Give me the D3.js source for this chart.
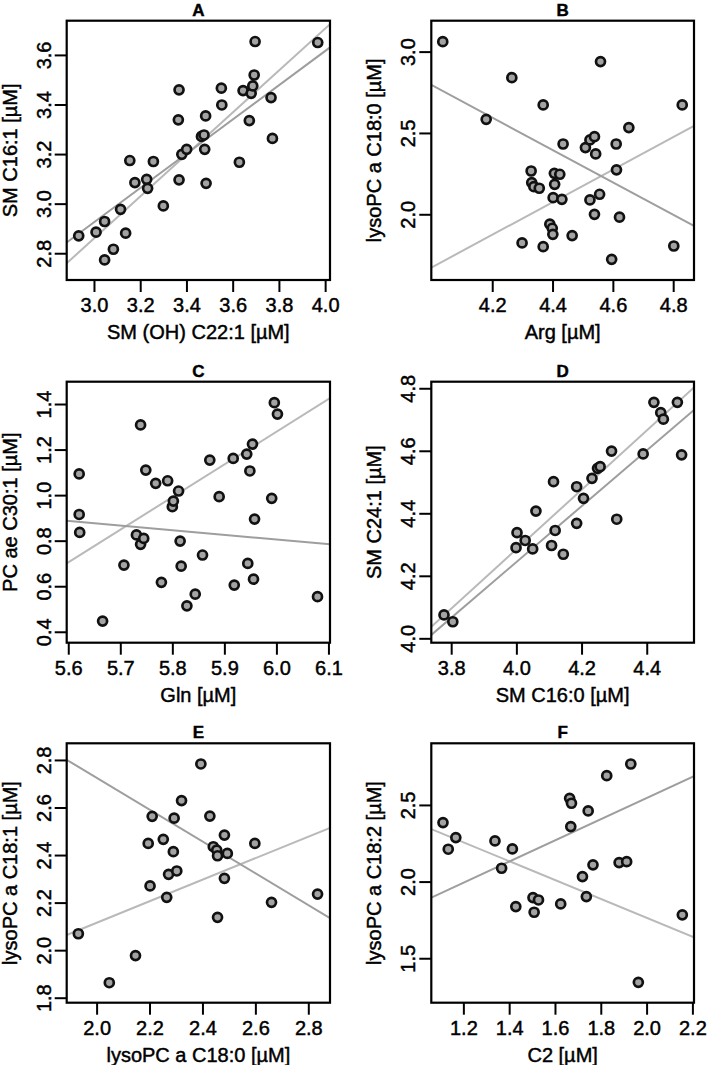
<!DOCTYPE html>
<html>
<head>
<meta charset="utf-8">
<script src="https://cdn.jsdelivr.net/npm/d3@7"></script>
<style>
  html, body { margin: 0; padding: 0; background: #fff; }
  svg { display: block; }
  text { font-family: "Liberation Sans", Arial, Helvetica, sans-serif; fill: #000; stroke: #000; stroke-width: 0.45px; }
</style>
</head>
<body>
<svg id="chart" width="708" height="1065"></svg>
<script>
// ---------- data ----------
const titles = ["A", "B", "C", "D", "E", "F"];
const xTitles = ["SM (OH) C22:1 [µM]", "Arg [µM]", "Gln [µM]", "SM C16:0 [µM]", "lysoPC a C18:0 [µM]", "C2 [µM]"];
const yTitles = ["SM C16:1 [µM]", "lysoPC a C18:0 [µM]", "PC ae C30:1 [µM]", "SM C24:1 [µM]", "lysoPC a C18:1 [µM]", "lysoPC a C18:2 [µM]"];

const aX = [2.934,3.009,3.046,3.046,3.084,3.115,3.137,3.155,3.177,3.228,3.232,3.257,3.300,3.368,3.365,3.368,3.380,3.401,3.465,3.476,3.479,3.483,3.485,3.551,3.553,3.629,3.645,3.672,3.680,3.687,3.693,3.697,3.766,3.772,3.968];
const aY = [2.870,2.885,2.928,2.773,2.816,2.977,2.881,3.174,3.085,3.098,3.062,3.170,2.991,3.459,3.338,3.096,3.199,3.219,3.271,3.277,3.219,3.354,3.082,3.466,3.398,3.167,3.456,3.335,3.445,3.475,3.519,3.654,3.428,3.263,3.650];

const bX = [4.036,4.180,4.265,4.299,4.329,4.331,4.338,4.356,4.369,4.369,4.391,4.399,4.401,4.402,4.406,4.407,4.424,4.431,4.435,4.465,4.509,4.524,4.524,4.539,4.543,4.539,4.556,4.559,4.611,4.612,4.622,4.653,4.596,4.802,4.830];
const bY = [3.061,2.584,2.840,1.824,2.266,2.195,2.170,2.160,2.672,1.801,1.939,1.914,1.877,2.102,2.252,2.184,2.246,2.092,2.432,1.869,2.410,2.457,2.088,2.477,2.371,2.000,2.123,2.939,2.432,2.273,1.982,2.533,1.723,1.805,2.672];

const cX = [5.621,5.621,5.622,5.666,5.707,5.731,5.739,5.739,5.745,5.749,5.768,5.779,5.791,5.800,5.802,5.812,5.815,5.817,5.828,5.844,5.858,5.872,5.890,5.917,5.919,5.943,5.945,5.949,5.954,5.956,5.958,5.991,5.996,6.002,6.079];
const cY = [1.093,0.915,0.836,0.447,0.693,0.825,1.308,0.784,0.810,1.110,1.052,0.617,1.063,0.949,0.974,1.018,0.798,0.688,0.514,0.565,0.737,1.154,0.993,1.161,0.605,1.180,0.700,1.106,1.224,0.631,0.895,0.986,1.406,1.356,0.554];

const dX = [3.778,3.805,3.999,4.002,4.027,4.050,4.060,4.108,4.114,4.119,4.144,4.185,4.185,4.206,4.232,4.249,4.257,4.292,4.308,4.389,4.422,4.443,4.451,4.494,4.507];
const dY = [4.075,4.053,4.290,4.338,4.313,4.286,4.407,4.297,4.501,4.345,4.269,4.485,4.368,4.448,4.512,4.544,4.549,4.599,4.381,4.590,4.755,4.722,4.701,4.755,4.587];

const eX = [1.931,2.048,2.147,2.195,2.202,2.210,2.252,2.265,2.272,2.290,2.293,2.303,2.321,2.394,2.428,2.441,2.454,2.457,2.457,2.483,2.483,2.494,2.598,2.661,2.835];
const eY = [2.069,1.863,1.977,2.449,2.270,2.563,2.466,2.222,2.319,2.414,2.555,2.333,2.629,2.783,2.564,2.435,2.421,2.397,2.138,2.484,2.302,2.407,2.449,2.201,2.236];

const fX = [1.111,1.134,1.167,1.338,1.367,1.414,1.429,1.504,1.509,1.528,1.625,1.664,1.672,1.669,1.720,1.737,1.745,1.766,1.826,1.880,1.913,1.931,1.964,2.156];
const fY = [2.385,2.211,2.287,2.265,2.087,2.213,1.837,1.896,1.800,1.880,1.854,2.543,2.511,2.359,2.033,1.902,2.461,2.109,2.691,2.124,2.130,2.767,1.343,1.783];

// regression lines: [intercept, slope]; first = light, second = dark
const aFit = [[0.320, 0.8465], [0.851, 0.6912]];
const bFit = [[-2.326, 1.000], [6.775, -0.9954]];
const cFit = [[-7.320, 1.433], [2.038, -0.2055]];
const dFit = [[0.485, 0.950], [0.672, 0.893]];
const eFit = [[1.209, 0.453], [4.063, -0.669]];
const fFit = [[2.995, -0.6155], [1.163, 0.691]];

// axis limits
const xDomains = [[2.882, 4.021], [3.998, 4.869], [5.597, 6.103], [3.739, 4.545], [1.887, 2.882], [1.060, 2.207]];
const yDomains = [[2.692, 3.738], [1.596, 3.190], [0.352, 1.498], [3.986, 4.821], [1.779, 2.870], [1.210, 2.902]];

// tick labels
const xTicks = [[3.0,3.2,3.4,3.6,3.8,4.0], [4.2,4.4,4.6,4.8], [5.6,5.7,5.8,5.9,6.0,6.1], [3.8,4.0,4.2,4.4], [2.0,2.2,2.4,2.6,2.8], [1.2,1.4,1.6,1.8,2.0,2.2]];
const yTicks = [[2.8,3.0,3.2,3.4,3.6], [2.0,2.5,3.0], [0.4,0.6,0.8,1.0,1.2,1.4], [4.0,4.2,4.4,4.6,4.8], [1.8,2.0,2.2,2.4,2.6,2.8], [1.5,2.0,2.5]];

// ---------- layout ----------
const xs = [aX, bX, cX, dX, eX, fX];
const ys = [aY, bY, cY, dY, eY, fY];
const fits = [aFit, bFit, cFit, dFit, eFit, fFit];

const colX = [[66.7, 330], [431.3, 694]];
const rowY = [[20.7, 280], [381.7, 642.7], [743.3, 1002.7]];
const lineColors = ["#b9b9b9", "#9e9e9e"];

const svg = d3.select("#chart");

titles.forEach((t, i) => {
  const [x0, x1] = colX[i % 2];
  const [y0, y1] = rowY[Math.floor(i / 2)];
  const x = d3.scaleLinear().domain(xDomains[i]).range([x0, x1]);
  const y = d3.scaleLinear().domain(yDomains[i]).range([y1, y0]);
  const g = svg.append("g");

  const clipId = "clip" + i;
  svg.append("clipPath").attr("id", clipId)
    .append("rect").attr("x", x0).attr("y", y0).attr("width", x1 - x0).attr("height", y1 - y0);

  // regression lines
  const lg = g.append("g").attr("clip-path", `url(#${clipId})`);
  fits[i].forEach((f, k) => {
    const [xa, xb] = xDomains[i];
    lg.append("line")
      .attr("x1", x(xa)).attr("y1", y(f[0] + f[1] * xa))
      .attr("x2", x(xb)).attr("y2", y(f[0] + f[1] * xb))
      .attr("stroke", lineColors[k]).attr("stroke-width", 2);
  });

  // points
  g.append("g").selectAll("circle")
    .data(xs[i].map((v, k) => [v, ys[i][k]]))
    .join("circle")
    .attr("cx", d => x(d[0])).attr("cy", d => y(d[1]))
    .attr("r", 4.5)
    .attr("fill", "#a3a3a3").attr("stroke", "#111").attr("stroke-width", 2.7);

  // box
  g.append("rect").attr("x", x0).attr("y", y0).attr("width", x1 - x0).attr("height", y1 - y0)
    .attr("fill", "none").attr("stroke", "#000").attr("stroke-width", 2.2);

  // x axis
  const xa = g.append("g").attr("transform", `translate(0,${y1})`)
    .call(d3.axisBottom(x).tickValues(xTicks[i]).tickFormat(d3.format(".1f")).tickSize(12).tickPadding(4));
  xa.select(".domain").remove();
  xa.selectAll(".tick line").attr("stroke", "#000").attr("stroke-width", 2);
  xa.selectAll(".tick text").attr("font-size", 20).attr("font-family", "Liberation Sans, Arial, sans-serif")
    .attr("fill", "#000").attr("y", 0).attr("dy", 32);

  // y axis
  const ya = g.append("g").attr("transform", `translate(${x0},0)`)
    .call(d3.axisLeft(y).tickValues(yTicks[i]).tickFormat(d3.format(".1f")).tickSize(12));
  ya.select(".domain").remove();
  ya.selectAll(".tick line").attr("stroke", "#000").attr("stroke-width", 2);
  ya.selectAll(".tick text").remove();
  ya.selectAll(".tick").append("text")
    .attr("transform", "translate(-16,0) rotate(-90)")
    .attr("text-anchor", "middle")
    .attr("font-size", 20).attr("font-family", "Liberation Sans, Arial, sans-serif").attr("fill", "#000")
    .text(d => d3.format(".1f")(d));

  // titles
  g.append("text").attr("x", (x0 + x1) / 2).attr("y", y0 - 5)
    .attr("text-anchor", "middle").attr("font-size", 17).attr("font-weight", "bold").text(t);
  g.append("text").attr("x", (x0 + x1) / 2).attr("y", y1 + 59)
    .attr("text-anchor", "middle").attr("font-size", 20).text(xTitles[i]);
  g.append("text").attr("transform", `translate(${x0 - 50},${(y0 + y1) / 2}) rotate(-90)`)
    .attr("text-anchor", "middle").attr("font-size", 20).text(yTitles[i]);
});
</script>
</body>
</html>
